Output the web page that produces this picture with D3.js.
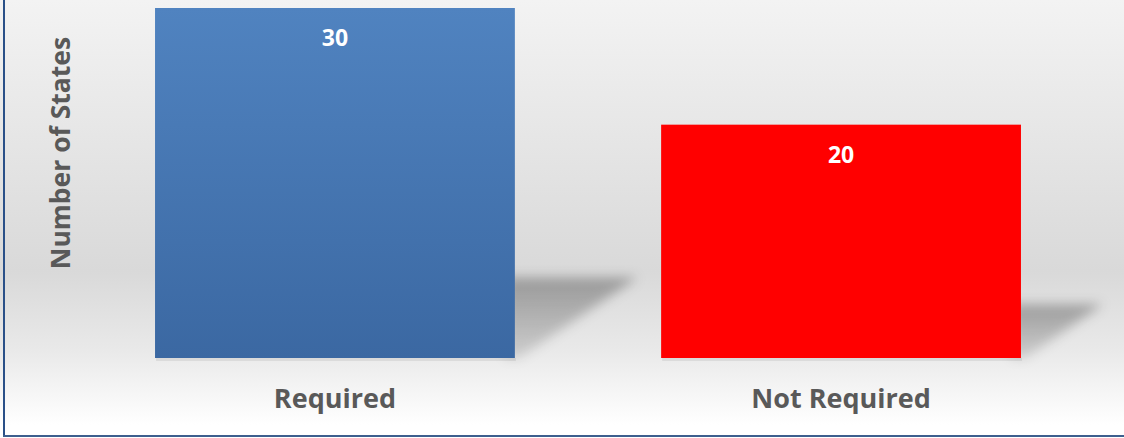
<!DOCTYPE html>
<html>
<head>
<meta charset="utf-8">
<script src="https://cdn.jsdelivr.net/npm/d3@7"></script>
<style>
  html, body { margin: 0; padding: 0; background: #ffffff; }
  svg { display: block; }
</style>
</head>
<body>
<svg id="chart" width="1124" height="438"></svg>
<script>
const categories = ["Required", "Not Required"];
const values = [30, 20];
const barColors = [["#5083c0", "#3b68a2"], ["#ff0000", "#ff0000"]];
const yTitle = "Number of States";

const W = 1124, H = 438;
const svg = d3.select("#chart");
const defs = svg.append("defs");

// background gradient
const bg = defs.append("linearGradient").attr("id", "bg")
  .attr("x1", 0).attr("y1", 0).attr("x2", 0).attr("y2", 1);
[[0, "#f3f3f3"], [0.62, "#d9d9d9"], [0.8, "#e9e9e9"], [0.97, "#ffffff"], [1, "#ffffff"]]
  .forEach(([o, c]) => bg.append("stop").attr("offset", o).attr("stop-color", c));

svg.append("rect").attr("width", W).attr("height", H).attr("fill", "url(#bg)");

// bar gradients
barColors.forEach((c, i) => {
  const g = defs.append("linearGradient").attr("id", "bar" + i)
    .attr("x1", 0).attr("y1", 0).attr("x2", 0).attr("y2", 1);
  g.append("stop").attr("offset", 0).attr("stop-color", c[0]);
  g.append("stop").attr("offset", 1).attr("stop-color", c[1]);
});

// shadow gradient (darker at top, fading toward the bottom)
const sg = defs.append("linearGradient").attr("id", "shadowGrad")
  .attr("x1", 0).attr("y1", 0).attr("x2", 0).attr("y2", 1);
sg.append("stop").attr("offset", 0).attr("stop-color", "#000").attr("stop-opacity", 0.3);
sg.append("stop").attr("offset", 1).attr("stop-color", "#000").attr("stop-opacity", 0.12);

const blur = defs.append("filter").attr("id", "blur")
  .attr("x", "-30%").attr("y", "-30%").attr("width", "160%").attr("height", "160%");
blur.append("feGaussianBlur").attr("stdDeviation", 6);

const x = d3.scaleBand().domain(categories).range([82, 1094])
  .paddingInner(0.289).paddingOuter(0.1443);
const y = d3.scaleLinear().domain([0, 30]).range([358, 8]);

const data = categories.map((c, i) => ({ c, v: values[i], i }));

// perspective shadows
svg.append("g").selectAll("path").data(data).join("path")
  .attr("d", d => {
    const x1 = x(d.c) + x.bandwidth();
    const y0 = y(0);
    const h = y(0) - y(d.v);
    const sh = h * 0.23, sw = h * 0.35;
    return `M${x1 - 10},${y0} L${x1 - 10},${y0 - sh} L${x1 + sw},${y0 - sh} L${x1 + 4},${y0} Z`;
  })
  .attr("fill", "url(#shadowGrad)")
  .attr("filter", "url(#blur)");

// small shadow under bars
svg.append("g").selectAll("rect").data(data).join("rect")
  .attr("x", d => x(d.c) + 1).attr("y", y(0))
  .attr("width", x.bandwidth()).attr("height", 3)
  .attr("fill", "#000").attr("fill-opacity", 0.07);

// bars
svg.append("g").selectAll("rect").data(data).join("rect")
  .attr("x", d => x(d.c)).attr("y", d => y(d.v))
  .attr("width", x.bandwidth()).attr("height", d => y(0) - y(d.v))
  .attr("fill", d => `url(#bar${d.i})`);

// value labels
svg.append("g").selectAll("text").data(data).join("text")
  .attr("x", d => x(d.c) + x.bandwidth() / 2)
  .attr("y", d => y(d.v) + 38)
  .attr("text-anchor", "middle")
  .attr("font-family", "Open Sans, sans-serif")
  .attr("font-weight", 700).attr("font-size", 23)
  .attr("fill", "#ffffff")
  .text(d => d.v);

// category axis labels
const xAxis = d3.axisBottom(x).tickSize(0).tickPadding(0);
const ax = svg.append("g").attr("transform", `translate(0,${y(0)})`).call(xAxis);
ax.select(".domain").remove();
ax.selectAll("text")
  .attr("y", 50)
  .attr("dy", 0)
  .attr("font-family", "Open Sans, sans-serif")
  .attr("font-weight", 700).attr("font-size", 27)
  .attr("fill", "#595959");

// y title
svg.append("text")
  .attr("transform", "translate(70,153) rotate(-90)")
  .attr("text-anchor", "middle")
  .attr("font-family", "Open Sans, sans-serif")
  .attr("font-weight", 700).attr("font-size", 26.5)
  .attr("fill", "#595959")
  .text(yTitle);

// border (left + bottom)
svg.append("rect").attr("x", 3).attr("y", 0).attr("width", 2).attr("height", 437).attr("fill", "#2a5088");
svg.append("rect").attr("x", 3).attr("y", 435).attr("width", W).attr("height", 2).attr("fill", "#3d5f8e");
</script>
</body>
</html>
